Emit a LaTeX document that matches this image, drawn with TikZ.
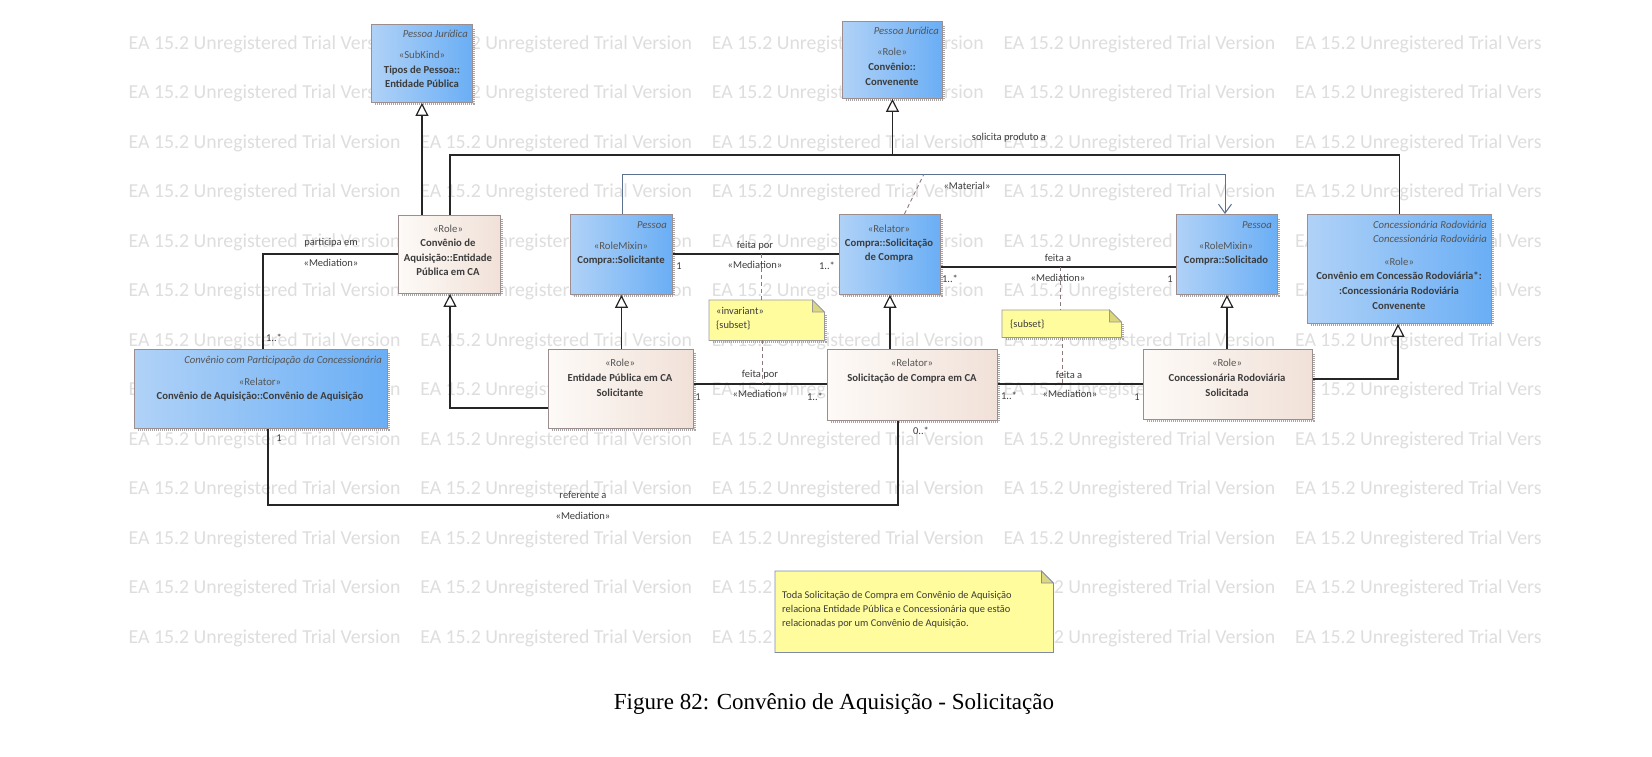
\documentclass[tikz,border=0pt]{standalone}
\usepackage{fontspec}
\setmainfont{Carlito}
\newfontfamily\capfont{Liberation Serif}
\usetikzlibrary{arrows.meta,calc}
\definecolor{bluel}{HTML}{B0D2F7}
\definecolor{bluer}{HTML}{6AAEF5}
\definecolor{pinkl}{HTML}{FDFAF7}
\definecolor{pinkr}{HTML}{F1E1D8}
\definecolor{bordc}{HTML}{9C8E8E}
\definecolor{txtc}{HTML}{3C3C3C}
\definecolor{stc}{HTML}{555555}
\definecolor{notey}{HTML}{FFFC9E}
\definecolor{foldc}{HTML}{DCD77E}
\definecolor{wmc}{HTML}{DEDEDE}
\definecolor{matc}{HTML}{5C7090}
\definecolor{dashc}{HTML}{8C7A7A}
\definecolor{notebl}{HTML}{7F8AA6}
\newcommand{\umlbox}[6]{%
  \draw[shadowline] ({#2+4},{#3+#5+1.5}) -- ({#2+#4+1.5},{#3+#5+1.5}) -- ({#2+#4+1.5},{#3+4});
  \node[#6, minimum width=#4pt, minimum height=#5pt, anchor=north west, inner sep=0pt] (#1) at (#2,#3) {};
}
\newcommand{\notebox}[7]{%
  \ifx#71\draw[shadowline] ({#2+4},{#3+#5+1.5}) -- ({#2+#4+1.5},{#3+#5+1.5}) -- ({#2+#4+1.5},{#3+14});\fi
  \node[inner sep=0pt, minimum width=#4pt, minimum height=#5pt, anchor=north west] (#1) at (#2,#3) {};
  \filldraw[fill=notey, draw=#6, line width=0.8pt] (#1.north west) -- ($(#1.north east)+(-12,0)$) -- ($(#1.north east)+(0,12)$) -- (#1.south east) -- (#1.south west) -- cycle;
  \filldraw[fill=foldc, draw=#6, line width=0.8pt] ($(#1.north east)+(-12,0)$) -- ($(#1.north east)+(-12,12)$) -- ($(#1.north east)+(0,12)$) -- cycle;
}
\begin{document}
\begin{tikzpicture}[x=1pt,y=-1pt,
  bluebox/.style={draw=bordc, line width=0.9pt, left color=bluel, right color=bluer},
  pinkbox/.style={draw=bordc, line width=0.9pt, left color=pinkl, right color=pinkr},
  shadowline/.style={draw=gray!70, line width=3pt, dash pattern=on 1pt off 1pt},
  bt/.style={font=\fontsize{10.7}{12}\selectfont\bfseries, text=txtc, inner sep=0pt, anchor=base},
  st/.style={font=\fontsize{10.7}{12}\selectfont, text=stc, inner sep=0pt, anchor=base},
  it/.style={font=\fontsize{10.7}{12}\selectfont\itshape, text=stc, inner sep=0pt, anchor=base east},
  nt/.style={font=\fontsize{10.4}{12}\selectfont, text=txtc, inner sep=0pt, anchor=base west},
  lab/.style={font=\fontsize{10.5}{12}\selectfont, text=txtc, inner sep=0pt},
  wm/.style={font=\fontsize{19.8}{22}\selectfont, text=wmc, inner sep=0pt, anchor=west},
  conn/.style={draw=black!85, line width=1.2pt},
  gen/.style={conn, -{Triangle[open, length=13pt, width=13pt, fill=white]}},
  mat/.style={draw=matc, line width=1pt, -{Straight Barb[length=9pt, width=13pt]}},
  dsh/.style={draw=dashc, line width=0.9pt, dash pattern=on 4pt off 3pt}]
\useasboundingbox (0,0) rectangle (1652,756);
\fill[white] (0,0) rectangle (1652,756);
% watermark
\begin{scope}
\clip (120,0) rectangle (1541,756);
\foreach \r in {0,...,12}{
  \foreach \c in {0,...,4}{
    \node[wm] (wm-\r-\c) at ({128.5+291.6*\c},{44+49.5*\r}) {EA 15.2 Unregistered Trial Version};
  }
}
\end{scope}
% coordinates
\coordinate (t1) at (450,155);
\coordinate (m1) at (622,174);
\coordinate (m2) at (1225,174);
\coordinate (d5) at (924,174);
\coordinate (h1) at (0,254);
\coordinate (h2) at (0,267);
\coordinate (h3) at (0,384);
\coordinate (g1) at (450,408);
\coordinate (g2) at (1398,379);
\coordinate (p1) at (263,254);
\coordinate (r1) at (268,505);
\coordinate (r2) at (898,505);
\coordinate (d1) at (761,254);
\coordinate (d2) at (762,384);
\coordinate (d3) at (1060,267);
\coordinate (d4) at (1062,384);
% boxes
\umlbox{B1}{371}{24}{101}{78}{bluebox}
\umlbox{B2}{842}{21}{100}{77}{bluebox}
\umlbox{B3}{398}{215}{102}{78}{pinkbox}
\umlbox{B4}{570}{214}{102}{80}{bluebox}
\umlbox{B5}{839}{214}{101}{80}{bluebox}
\umlbox{B6}{1176}{214}{101}{80}{bluebox}
\umlbox{B7}{1307}{214}{184}{109}{bluebox}
\umlbox{B8}{134}{349}{253}{79}{bluebox}
\umlbox{B9}{548}{349}{145}{79}{pinkbox}
\umlbox{B10}{827}{349}{170}{71}{pinkbox}
\umlbox{B11}{1143}{349}{169}{70}{pinkbox}
% box texts
\node[it] (B1i) at (468,37) {Pessoa Jurídica};
\node[st] (B1s) at (422,58) {«SubKind»};
\node[bt] (B1a) at (422,73) {Tipos de Pessoa::};
\node[bt] (B1b) at (422,87) {Entidade Pública};
\node[it] (B2i) at (939,34) {Pessoa Jurídica};
\node[st] (B2s) at (892,55) {«Role»};
\node[bt] (B2a) at (892,70) {Convênio::};
\node[bt] (B2b) at (892,85) {Convenente};
\node[st] (B3s) at (448,232) {«Role»};
\node[bt] (B3a) at (448,246) {Convênio de};
\node[bt] (B3b) at (448,261) {Aquisição::Entidade};
\node[bt] (B3c) at (448,275) {Pública em CA};
\node[it] (B4i) at (667,228) {Pessoa};
\node[st] (B4s) at (621,249) {«RoleMixin»};
\node[bt] (B4a) at (621,263) {Compra::Solicitante};
\node[st] (B5s) at (889,232) {«Relator»};
\node[bt] (B5a) at (889,246) {Compra::Solicitação};
\node[bt] (B5b) at (889,260) {de Compra};
\node[it] (B6i) at (1272,228) {Pessoa};
\node[st] (B6s) at (1226,249) {«RoleMixin»};
\node[bt] (B6a) at (1226,263) {Compra::Solicitado};
\node[it] (B7i) at (1487,228) {Concessionária Rodoviária};
\node[it] (B7j) at (1487,242) {Concessionária Rodoviária};
\node[st] (B7s) at (1399,265) {«Role»};
\node[bt] (B7a) at (1399,279) {Convênio em Concessão Rodoviária*:};
\node[bt] (B7b) at (1399,294) {:Concessionária Rodoviária};
\node[bt] (B7c) at (1399,309) {Convenente};
\node[it] (B8i) at (382,363) {Convênio com Participação da Concessionária};
\node[st] (B8s) at (260,385) {«Relator»};
\node[bt] (B8a) at (260,399) {Convênio de Aquisição::Convênio de Aquisição};
\node[st] (B9s) at (620,366) {«Role»};
\node[bt] (B9a) at (620,381) {Entidade Pública em CA};
\node[bt] (B9b) at (620,396) {Solicitante};
\node[st] (B10s) at (912,366) {«Relator»};
\node[bt] (B10a) at (912,381) {Solicitação de Compra em CA};
\node[st] (B11s) at (1227,366) {«Role»};
\node[bt] (B11a) at (1227,381) {Concessionária Rodoviária};
\node[bt] (B11b) at (1227,396) {Solicitada};
% notes
\notebox{N1}{709}{300}{115}{40}{gray!80}{1}
\node[nt] (N1a) at (716,314) {«invariant»};
\node[nt] (N1b) at (716,328) {\{subset\}};
\notebox{N2}{1002}{310}{119}{27}{gray!80}{1}
\node[nt] (N2a) at (1010,327) {\{subset\}};
\notebox{N3}{775}{571}{278}{81}{notebl}{0}
\node[nt] (N3a) at (782,598) {Toda Solicitação de Compra em Convênio de Aquisição};
\node[nt] (N3b) at (782,612) {relaciona Entidade Pública e Concessionária que estão};
\node[nt] (N3c) at (782,626) {relacionadas por um Convênio de Aquisição.};
% generalizations
\draw[gen] (B1.south |- B3.north) -- (B1.south);
\draw[conn] (B3.north -| t1) -- (t1) -- (B7.north |- t1) -- (B7.north);
\draw[gen] (B2.south |- t1) -- (B2.south);
\draw[gen] (B9.north -| B4.south) -- (B4.south);
\draw[gen] (B10.north -| B5.south) -- (B5.south);
\draw[gen] (B11.north -| B6.south) -- (B6.south);
\draw[gen] (B9.west |- g1) -- (g1) -- (B3.south -| g1);
\draw[gen] (B11.east |- g2) -- (g2) -- (B7.south -| g2);
% material
\draw[mat] (B4.north -| m1) -- (m1) -- (m2) -- (B6.north -| m2);
\draw[dsh] ($(B5.north)+(14.5,0)$) -- (d5);
% mediations
\draw[conn] (B4.east |- h1) -- (B5.west |- h1);
\draw[conn] (B5.east |- h2) -- (B6.west |- h2);
\draw[conn] (B9.east |- h3) -- (B10.west |- h3);
\draw[conn] (B10.east |- h3) -- (B11.west |- h3);
\draw[conn] (B8.north -| p1) -- (p1) -- (B3.west |- p1);
\draw[conn] (B8.south -| r1) -- (r1) -- (r2) -- (B10.south -| r2);
% note links
\draw[dsh] (d1) -- (d1 |- N1.north);
\draw[dsh] (N1.south -| d2) -- (d2);
\draw[dsh] (d3) -- (d3 |- N2.north);
\draw[dsh] (N2.south -| d4) -- (d4);
% labels
\node[lab] (L1) at (331,243) {participa em};
\node[lab] (L2) at (331,263) {«Mediation»};
\node[lab] (L3) at (274,338) {1..*};
\node[lab] (L4) at (755,246) {feita por};
\node[lab] (L5) at (755,265) {«Mediation»};
\node[lab] (L6) at (679,266) {1};
\node[lab] (L7) at (827,266) {1..*};
\node[lab] (L8) at (1058,258) {feita a};
\node[lab] (L9) at (1058,278) {«Mediation»};
\node[lab] (L10) at (950,279) {1..*};
\node[lab] (L11) at (1170,279) {1};
\node[lab] (L12) at (760,375) {feita por};
\node[lab] (L13) at (760,394) {«Mediation»};
\node[lab] (L14) at (698,397) {1};
\node[lab] (L15) at (815,397) {1..*};
\node[lab] (L16) at (1069,375) {feita a};
\node[lab] (L17) at (1070,394) {«Mediation»};
\node[lab] (L18) at (1009,396) {1..*};
\node[lab] (L19) at (1137,397) {1};
\node[lab] (L20) at (279,438) {1};
\node[lab] (L21) at (921,431) {0..*};
\node[lab] (L22) at (583,495) {referente a};
\node[lab] (L23) at (583,516) {«Mediation»};
\node[lab] (L24) at (1009,138) {solicita produto a};
\node[lab] (L25) at (967,186) {«Material»};
% caption
\node[font=\capfont\fontsize{23}{26}\selectfont, inner sep=0pt] (cap) at (834,704) {Figure 82: Convênio de Aquisição - Solicitação};
\end{tikzpicture}
\end{document}
